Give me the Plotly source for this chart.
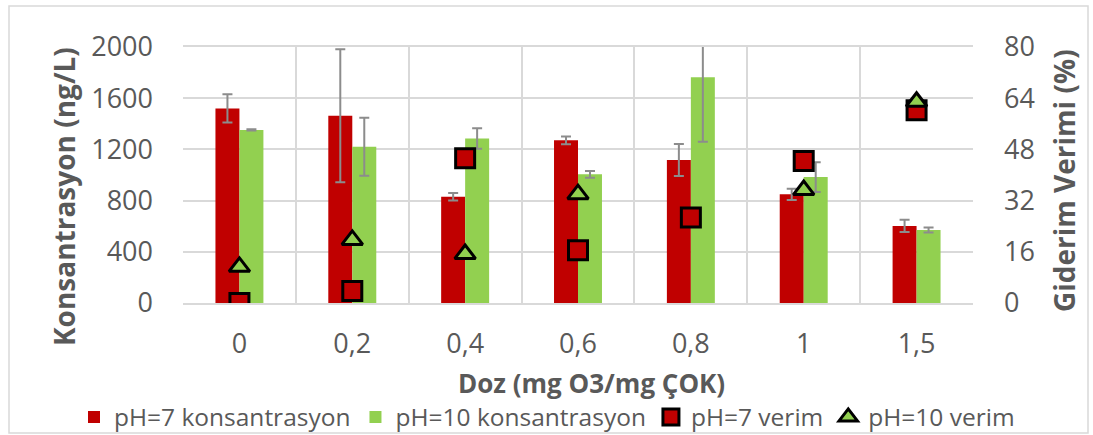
import plotly.graph_objects as go

categories = ["0", "0,2", "0,4", "0,6", "0,8", "1", "1,5"]
ph7_conc = [1520, 1463, 830, 1271, 1117, 849, 602]
ph7_conc_err = [110, 520, 30, 30, 125, 44, 48]
ph10_conc = [1352, 1221, 1286, 1005, 1763, 984, 570]
ph10_conc_err = [5, 227, 80, 27, 503, 116, 20]
ph7_eff = [0, 3.75, 45.2, 16.5, 26.7, 44.4, 60.2]
ph10_eff = [11.3, 19.7, 15.3, 34.0, None, 35.3, 62.9]

x_title = "Doz (mg O3/mg ÇOK)"
y_title = "Konsantrasyon (ng/L)"
y2_title = "Giderim Verimi (%)"

pos = list(range(len(categories)))
RED = "#C00000"
GREEN = "#92D050"
TXT = "#595959"
GRID = "#D9D9D9"
FONT = "Open Sans"

# plot area in pixels: left 183, right 973, top 47, bottom 303
def px(x):
    return (x - 183) / 790

def py(y):
    return (303 - y) / 256

fig = go.Figure()
err_style = dict(type="data", visible=True, color="#8C8C8C", thickness=2, width=5)
fig.add_trace(go.Bar(x=pos, y=ph7_conc, name="pH=7 konsantrasyon", marker_color=RED,
                     marker_line_width=0,
                     error_y=dict(array=ph7_conc_err, **err_style)))
fig.add_trace(go.Bar(x=pos, y=ph10_conc, name="pH=10 konsantrasyon", marker_color=GREEN,
                     marker_line_width=0,
                     error_y=dict(array=ph10_conc_err, **err_style)))
fig.add_trace(go.Scatter(x=pos, y=ph7_eff, name="pH=7 verim", mode="markers", yaxis="y2",
                         marker=dict(symbol="square", size=19, color=RED,
                                     line=dict(color="black", width=3))))
fig.add_trace(go.Scatter(x=pos, y=ph10_eff, name="pH=10 verim", mode="markers", yaxis="y2",
                         marker=dict(symbol="triangle-up", size=18, color=GREEN,
                                     line=dict(color="black", width=3))))

title_font = dict(family=FONT, size=28, color=TXT)
fig.update_layout(
    width=1093, height=435,
    margin=dict(l=183, r=120, t=47, b=132, autoexpand=False),
    paper_bgcolor="white", plot_bgcolor="white",
    font=dict(family=FONT, color=TXT),
    barmode="group", bargap=0.575, bargroupgap=0,
    showlegend=True,
    legend=dict(orientation="h", x=px(74), xanchor="left", y=py(417), yanchor="middle",
                font=dict(size=24.5, color=TXT), itemwidth=30, traceorder="normal",
                bgcolor="rgba(0,0,0,0)"),
    xaxis=dict(range=[-0.5, 6.5], tickmode="array", tickvals=pos, ticktext=categories,
               showgrid=False, zeroline=False, showline=True, mirror=True,
               linecolor=GRID, linewidth=1.5,
               ticks="", tickfont=dict(size=27, color=TXT), ticklabelstandoff=16,
               automargin=False,
               minor=dict(tickvals=[p - 0.5 for p in pos] + [6.5], showgrid=True,
                          gridcolor=GRID, gridwidth=1.5, ticks="")),
    yaxis=dict(range=[0, 2000], tickvals=[0, 400, 800, 1200, 1600, 2000],
               showgrid=True, gridcolor=GRID, gridwidth=1.5, zeroline=False,
               tickfont=dict(size=27, color=TXT), ticklabelstandoff=29, automargin=False),
    yaxis2=dict(range=[0, 80], tickvals=[0, 16, 32, 48, 64, 80], overlaying="y",
                side="right", showgrid=False, zeroline=False, automargin=False,
                tickfont=dict(size=27, color=TXT), ticklabelstandoff=30),
    annotations=[
        dict(text=f"<b>{x_title}</b>", xref="paper", yref="paper", x=px(591), y=py(383),
             xanchor="center", yanchor="middle", showarrow=False,
             font=dict(family=FONT, size=26, color=TXT)),
        dict(text=f"<b>{y_title}</b>", xref="paper", yref="paper", x=px(64), y=py(197),
             xanchor="center", yanchor="middle", textangle=-90, showarrow=False,
             font=title_font),
        dict(text=f"<b>{y2_title}</b>", xref="paper", yref="paper", x=px(1064), y=py(181),
             xanchor="center", yanchor="middle", textangle=-90, showarrow=False,
             font=title_font),
    ],
    shapes=[dict(type="rect", xref="paper", yref="paper",
                 x0=px(9), x1=px(1088), y0=py(433), y1=py(6),
                 line=dict(color=GRID, width=1.5), layer="below")],
)

fig.write_html("out.html", config={"displayModeBar": False},
               post_script="document.body.style.margin='0px';")
